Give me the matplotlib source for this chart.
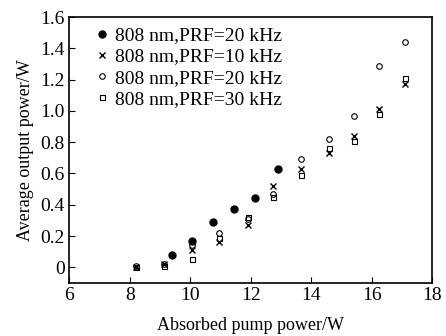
import matplotlib
matplotlib.use('Agg')
import matplotlib.pyplot as plt

plt.rcParams['font.family'] = 'Liberation Serif'

# filled circles, 808 nm PRF=20 kHz
x1 = [9.4, 10.05, 10.75, 11.45, 12.15, 12.9]
y1 = [0.08, 0.17, 0.29, 0.37, 0.44, 0.63]

xs = [8.2, 9.15, 10.05, 10.95, 11.9, 12.75, 13.65, 14.6, 15.4, 16.25, 17.1]
y_cross = [0.0, 0.02, 0.11, 0.16, 0.27, 0.52, 0.63, 0.73, 0.84, 1.01, 1.17]
y_open = [0.01, 0.02, 0.14, 0.22, 0.31, 0.47, 0.69, 0.82, 0.97, 1.29, 1.44]
y_square = [0.0, 0.01, 0.05, 0.19, 0.32, 0.45, 0.59, 0.76, 0.81, 0.98, 1.21]

labels = ['808 nm,PRF=20 kHz', '808 nm,PRF=10 kHz',
          '808 nm,PRF=20 kHz', '808 nm,PRF=30 kHz']

fig = plt.figure(figsize=(4.46, 3.36), dpi=100)
ax = fig.add_axes([0.155, 0.158, 0.814, 0.791])

ax.plot(x1, y1, 'o', color='black', ms=5, label=labels[0], ls='none')
ax.plot(xs, y_cross, 'x', color='black', ms=4.5, mew=1.0, label=labels[1], ls='none')
ax.plot(xs, y_open, 'o', mfc='none', mec='black', ms=4, mew=0.8, label=labels[2], ls='none')
ax.plot(xs, y_square, 's', mfc='none', mec='black', ms=3.6, mew=0.8, label=labels[3], ls='none')

ax.set_xlim(6, 18)
ax.set_ylim(-0.1, 1.6)
ax.set_xticks([6, 8, 10, 12, 14, 16, 18])
ax.set_yticks([0, 0.2, 0.4, 0.6, 0.8, 1.0, 1.2, 1.4, 1.6])
ax.set_yticklabels(['0', '0.2', '0.4', '0.6', '0.8', '1.0', '1.2', '1.4', '1.6'])
ax.tick_params(direction='in', labelsize=14, length=4, pad=3)
for s in ax.spines.values():
    s.set_linewidth(1.2)

ax.set_xlabel('Absorbed pump power/W', fontsize=13, labelpad=9)
ax.set_ylabel('Average output power/W', fontsize=13, labelpad=5)

ax.legend(loc='upper left', bbox_to_anchor=(0.03, 1.0), frameon=False,
          fontsize=14, handletextpad=0.0, handlelength=1.3,
          labelspacing=0.18, borderaxespad=0.3, borderpad=0.2)

fig.savefig('out.png', dpi=100)
